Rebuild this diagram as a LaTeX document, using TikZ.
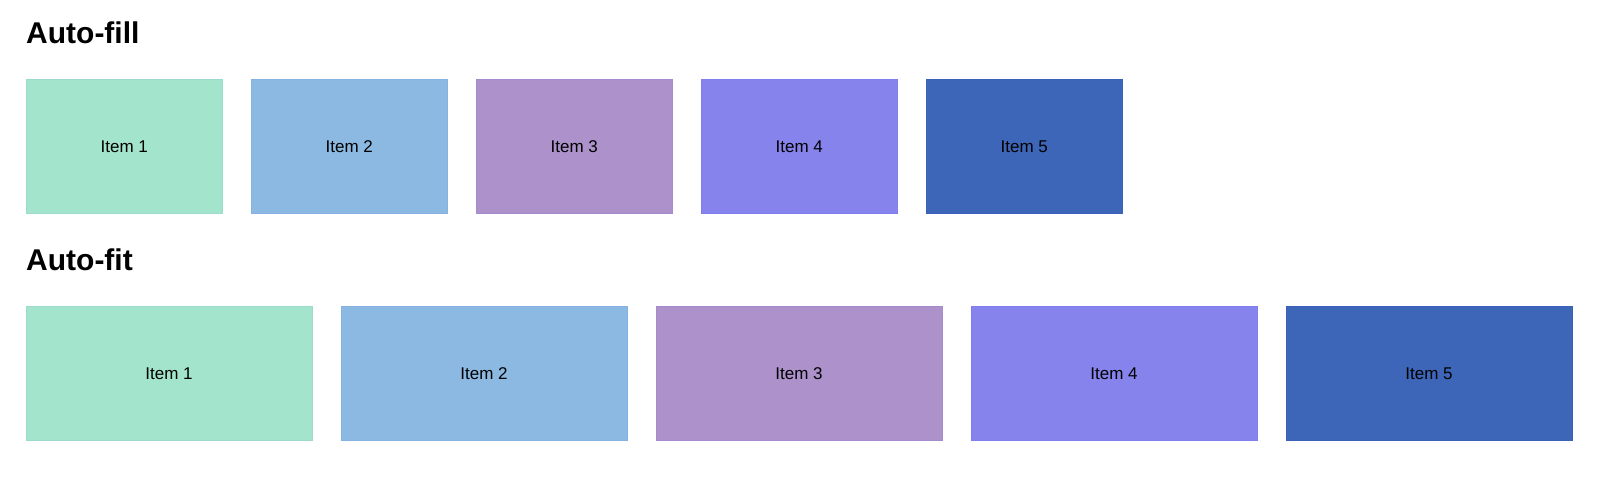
\documentclass[tikz,border=0pt]{standalone}
\usepackage{fontspec}
\setmainfont{Liberation Sans}
\definecolor{cA}{RGB}{163,228,204}
\definecolor{cB}{RGB}{139,185,226}
\definecolor{cC}{RGB}{173,145,202}
\definecolor{cD}{RGB}{134,131,236}
\definecolor{cE}{RGB}{61,102,184}
\begin{document}
\begin{tikzpicture}[x=1pt,y=-1pt,
  title/.style={anchor=base west,inner sep=0pt,font=\fontsize{30}{36}\selectfont\bfseries},
  itembox/.style={rectangle,inner sep=0pt,minimum height=134.5pt,font=\fontsize{17}{20}\selectfont,line width=0.6pt},
  fillbox/.style={itembox,minimum width=196.5pt},
  fitbox/.style={itembox,minimum width=286pt}]
\useasboundingbox (0,0) rectangle (1600,481);
\node[title] (t1) at (26,43.3) {Auto-fill};
\node[title] (t2) at (26,270) {Auto-fit};
\foreach \c [count=\i from 0] in {cA,cB,cC,cD,cE}{
  \pgfmathsetmacro{\n}{int(\i+1)}
  \node[fillbox,fill=\c,draw=\c!96!blue] (fill\n) at ({124.25+225*\i},146.25) {Item \n};
  \node[fitbox,fill=\c,draw=\c!96!blue] (fit\n) at ({169+315*\i},373.5) {Item \n};
}
\end{tikzpicture}
\end{document}
